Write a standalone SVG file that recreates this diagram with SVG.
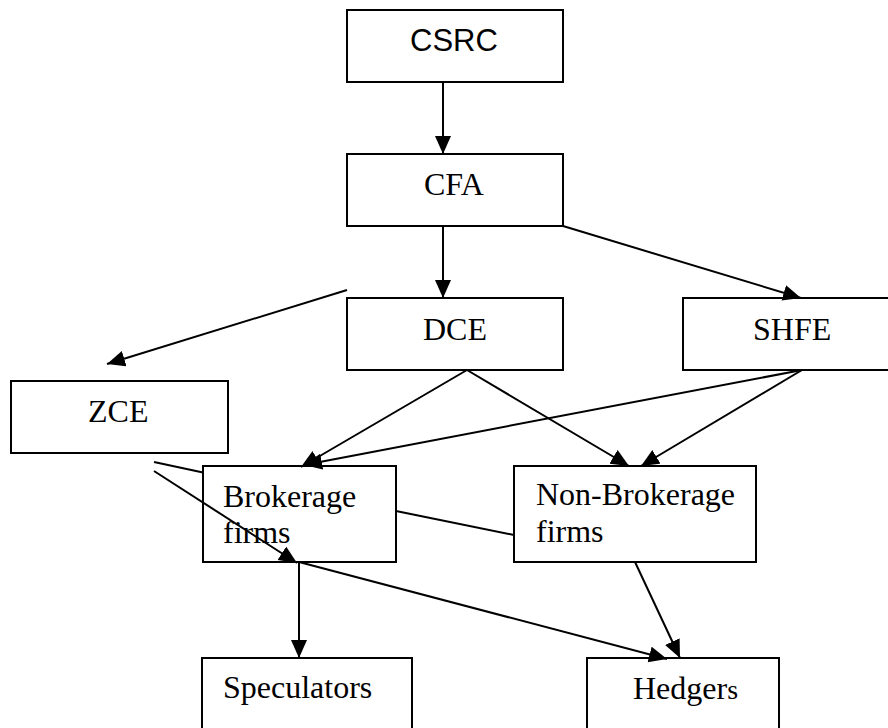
<svg xmlns="http://www.w3.org/2000/svg" width="888" height="728" viewBox="0 0 888 728">
<style>
.box{fill:#fff;stroke:#000;stroke-width:2}
.lbl{font-family:"Liberation Serif","Times New Roman",serif;font-size:32px;fill:#000}
.sans{font-family:"Liberation Sans",Arial,sans-serif;font-size:31px;fill:#000}
.ln{stroke:#000;stroke-width:2;fill:none}
.ar{marker-end:url(#ah)}
</style>
<defs>
<marker id="ah" markerUnits="userSpaceOnUse" markerWidth="20" markerHeight="18" refX="18" refY="8" orient="auto" viewBox="0 0 20 18">
<path d="M0,0 L18,8 L0,16 z" fill="#000"/>
</marker>
</defs>
<rect width="888" height="728" fill="#fff"/>
<g id="nodes">
<g id="csrc"><rect class="box" x="347" y="10" width="216" height="72"/><text class="sans" x="410" y="51">CSRC</text></g>
<g id="cfa"><rect class="box" x="347" y="154" width="216" height="72"/><text class="lbl" x="424" y="195">CFA</text></g>
<g id="dce"><rect class="box" x="347" y="298" width="216" height="72"/><text class="lbl" x="423" y="340">DCE</text></g>
<g id="shfe"><rect class="box" x="683" y="298" width="220" height="72"/><text class="lbl" x="753" y="340">SHFE</text></g>
<g id="zce"><rect class="box" x="11" y="381" width="217" height="72"/><text class="lbl" x="88" y="422">ZCE</text></g>
<g id="brokerage"><rect class="box" x="203" y="466" width="193" height="96"/><text class="lbl" x="223" y="507">Brokerage</text><text class="lbl" x="223" y="543">firms</text></g>
<g id="nonbrokerage"><rect class="box" x="514" y="466" width="242" height="96"/><text class="lbl" x="536" y="505">Non-Brokerage</text><text class="lbl" x="536" y="542">firms</text></g>
<g id="speculators"><rect class="box" x="202" y="658" width="210" height="90"/><text class="lbl" x="223" y="698">Speculators</text></g>
<g id="hedgers"><rect class="box" x="587" y="658" width="192" height="90"/><text class="lbl" x="633" y="699">Hedger<tspan font-size="28">s</tspan></text></g>
</g>
<g id="connectors">
<line class="ln ar" x1="443" y1="82" x2="443" y2="154"/>
<line class="ln ar" x1="443" y1="227" x2="443" y2="298"/>
<line class="ln ar" x1="563" y1="226" x2="801" y2="298"/>
<line class="ln ar" x1="347" y1="290" x2="107" y2="364"/>
<line class="ln ar" x1="467" y1="370" x2="301" y2="467"/>
<line class="ln ar" x1="802" y1="370" x2="304" y2="465"/>
<line class="ln ar" x1="467" y1="370" x2="629" y2="466"/>
<line class="ln ar" x1="802" y1="370" x2="641" y2="466"/>
<line class="ln" x1="154" y1="462" x2="203" y2="472.5"/>
<line class="ln" x1="396" y1="511" x2="514" y2="535"/>
<line class="ln ar" x1="154" y1="471" x2="297" y2="563"/>
<line class="ln ar" x1="299" y1="562" x2="299" y2="658"/>
<line class="ln ar" x1="299" y1="562" x2="667" y2="659"/>
<line class="ln ar" x1="635" y1="562" x2="680" y2="658"/>
</g>
</svg>
